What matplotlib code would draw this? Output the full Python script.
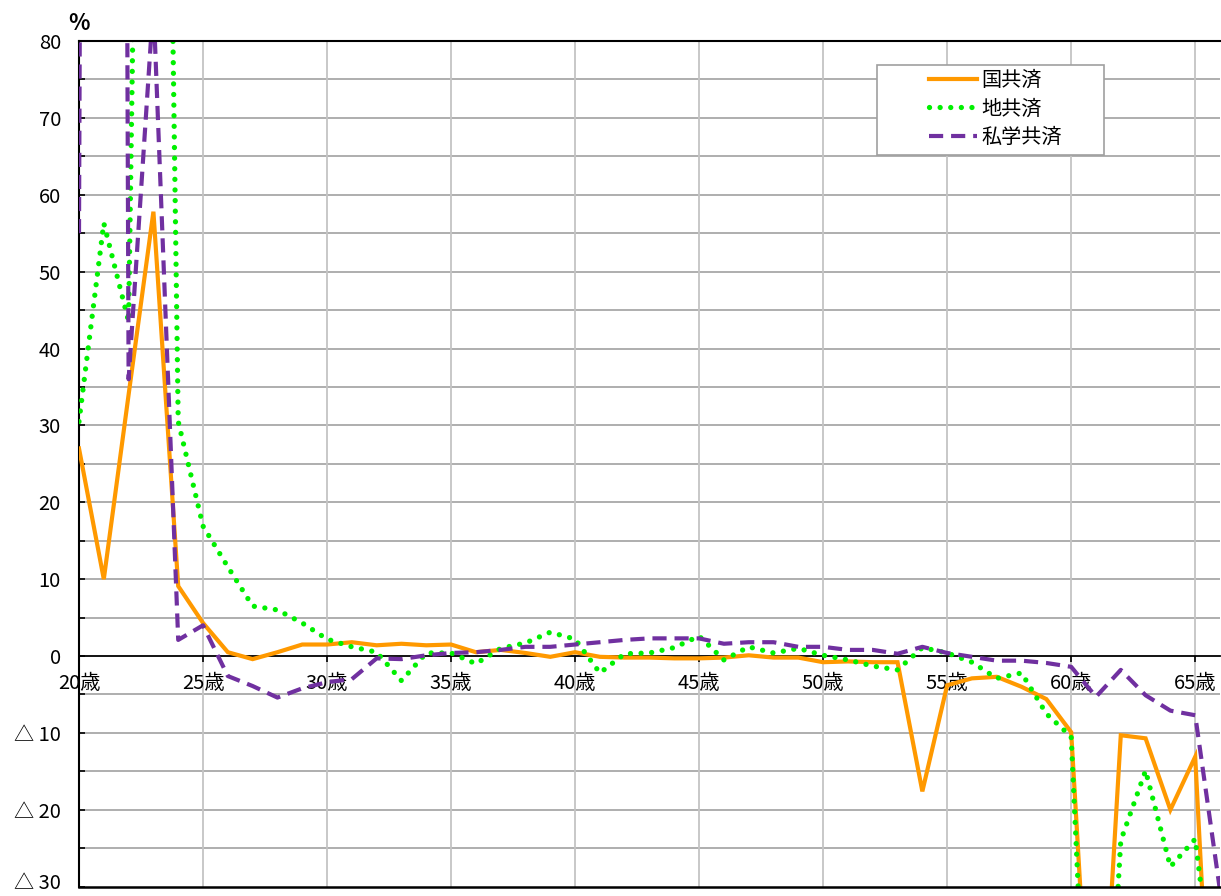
import matplotlib
matplotlib.use("Agg")
import matplotlib.pyplot as plt
import matplotlib.ticker as mticker
from matplotlib.patches import Rectangle
import numpy as np

plt.rcParams['font.family'] = ['Noto Sans CJK JP', 'DejaVu Sans']

# ---------------------------------------------------------------------------
# Data
# ---------------------------------------------------------------------------
ages = list(range(20, 67))

kokkyosai = [27.0, 10.0, 34.0, 57.8, 9.1, 4.3, 0.5, -0.4, 0.5, 1.5,
             1.5, 1.8, 1.4, 1.6, 1.4, 1.5, 0.5, 0.8, 0.4, -0.1,
             0.5, -0.1, -0.2, -0.2, -0.3, -0.3, -0.2, 0.1, -0.2, -0.2,
             -0.8, -0.7, -0.8, -0.8, -17.6, -3.8, -2.9, -2.7, -4.0, -5.6,
             -9.9, -65.0, -10.3, -10.7, -20.0, -13.1, -75.0]

chikyosai = [30.5, 56.3, 43.5, 265.0, 30.5, 16.9, 11.6, 6.5, 6.0, 4.3,
             2.2, 1.2, 0.5, -3.2, 0.4, 0.4, -1.0, 1.0, 1.7, 3.1,
             2.2, -2.2, 0.3, 0.4, 1.1, 2.6, -0.5, 1.2, 0.4, 1.0,
             0.1, -0.5, -1.3, -1.8, 1.1, 0.4, -0.8, -2.9, -2.2, -7.5,
             -10.5, -80.0, -24.0, -14.9, -27.4, -23.8, -50.0]

shigaku = [55.0, 900.0, 36.0, 85.0, 2.1, 4.0, -2.6, -3.9, -5.4, -4.2,
           -3.4, -3.0, -0.3, -0.4, 0.1, 0.4, 0.5, 0.8, 1.2, 1.2,
           1.5, 1.8, 2.1, 2.3, 2.3, 2.3, 1.6, 1.8, 1.8, 1.2,
           1.2, 0.8, 0.8, 0.3, 1.2, 0.4, -0.1, -0.6, -0.6, -0.9,
           -1.4, -5.3, -1.8, -5.1, -7.1, -7.7, -30.5]

series_names = ["国共済", "地共済", "私学共済"]

x_ticks = [20, 25, 30, 35, 40, 45, 50, 55, 60, 65]
x_labels = [f"{a}歳" for a in x_ticks]
y_ticks = list(range(-30, 81, 10))
y_labels = [f"△ {-v}" if v < 0 else str(v) for v in y_ticks]

# ---------------------------------------------------------------------------
# Plot
# ---------------------------------------------------------------------------
W, H = 1221, 896
fig = plt.figure(figsize=(W / 100, H / 100), dpi=100)
ax = fig.add_axes([79 / W, 1 - 886.7 / H, (1220 - 79) / W, (886.7 - 41) / H])

ax.set_xlim(20, 66)
ax.set_ylim(-30, 80)

# grid
for v in range(-25, 80, 5):
    if v == 0:
        continue
    ax.axhline(v, color="#a8a8a8", lw=1.3, zorder=0)
for a in range(25, 66, 5):
    ax.axvline(a, color="#c4c4c4", lw=1.3, zorder=0)

ax.plot(ages, kokkyosai, color="#FF9900", lw=3.0, solid_joinstyle="miter",
        label=series_names[0], zorder=3)
ax.plot(ages, chikyosai, color="#00F000", lw=3.8, linestyle=(0, (0.01, 2.0)),
        dash_capstyle="round", label=series_names[1], zorder=4)
ax.plot(ages, shigaku, color="#7030A0", lw=3.0, linestyle=(0, (3.4, 1.9)),
        label=series_names[2], zorder=5)

# spines / axes
for s in ["top", "right"]:
    ax.spines[s].set_visible(False)
ax.spines["left"].set_color("black")
ax.spines["left"].set_linewidth(1.5)
ax.spines["bottom"].set_position(("data", 0))
ax.spines["bottom"].set_color("black")
ax.spines["bottom"].set_linewidth(1.3)
ax.axhline(80, color="black", lw=1.5, clip_on=False, zorder=6)
ax.axhline(-30, color="black", lw=1.8, clip_on=False, zorder=6)

ax.set_xticks(x_ticks)
ax.set_xticklabels(x_labels)
ax.tick_params(axis="x", direction="out", length=4, width=1.2, pad=8,
               labelsize=14.5, colors="black")

# the lowest label sits right on the picture's bottom edge; draw it by hand
ax.yaxis.set_major_locator(mticker.FixedLocator(y_ticks))
ax.set_yticklabels([""] + y_labels[1:])
ax.yaxis.set_minor_locator(mticker.MultipleLocator(5))
ax.tick_params(axis="y", which="both", direction="in", length=4, width=1.2,
               pad=13, labelsize=14.5, colors="black")
fig.text(61 / W, 1 - 894 / H, y_labels[0], ha="right", va="bottom",
         fontsize=14.5)

fig.text(79 / W, 1 - 23 / H, "%", ha="center", va="center", fontsize=16,
         fontweight="bold")

# legend box
box = Rectangle((877 / W, 1 - 155 / H), (1104 - 877) / W, 90 / H,
                transform=fig.transFigure, facecolor="white",
                edgecolor="#a0a0a0", lw=1.2, zorder=10)
fig.patches.append(box)
leg = fig.legend(loc="upper left", bbox_to_anchor=(921 / W, 1 - 62 / H),
                 frameon=False, fontsize=14.5, handlelength=2.4,
                 handletextpad=0.2, labelspacing=0.36, borderaxespad=0)
leg.set_zorder(11)

plt.savefig("out.png", dpi=100)
